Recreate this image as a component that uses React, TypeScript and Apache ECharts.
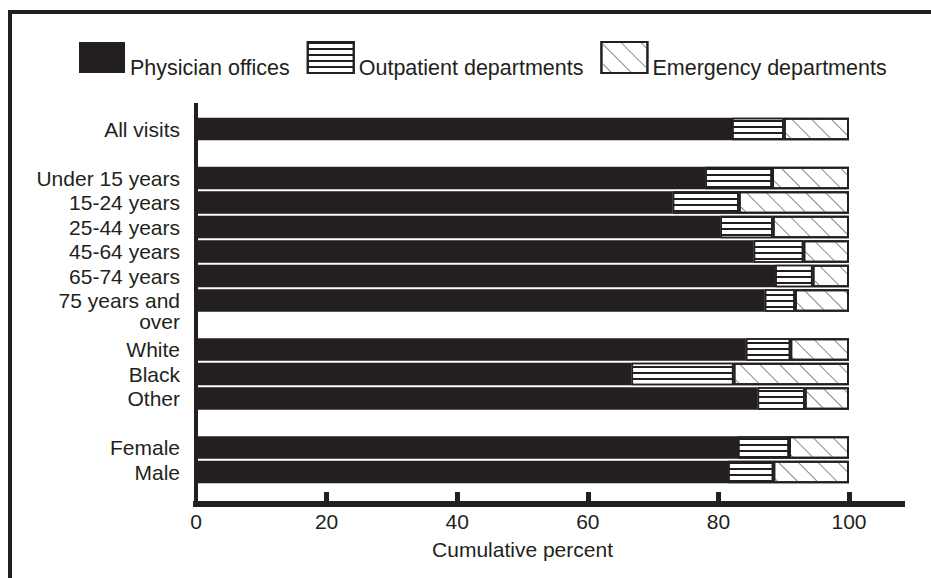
import React, { useEffect, useRef } from "react";
import * as echarts from "echarts";

const categories = [
  "All visits",
  " ",
  "Under 15 years",
  "15-24 years",
  "25-44 years",
  "45-64 years",
  "65-74 years",
  "75 years and\nover",
  "  ",
  "White",
  "Black",
  "Other",
  "   ",
  "Female",
  "Male",
];

const physicianOffices: (number | string)[] = [82.1, "-", 78.0, 73.0, 80.3, 85.4, 88.7, 87.1, "-", 84.2, 66.7, 86.0, "-", 83.0, 81.5];
const outpatientDepartments: (number | string)[] = [7.9, "-", 10.2, 10.1, 8.0, 7.6, 5.7, 4.6, "-", 6.8, 15.6, 7.2, "-", 7.8, 6.9];
const emergencyDepartments: (number | string)[] = [10.0, "-", 11.8, 16.9, 11.7, 7.0, 5.6, 8.3, "-", 9.0, 17.7, 6.8, "-", 9.2, 11.6];

const xTicks = [0, 20, 40, 60, 80, 100];
const seriesNames = ["Physician offices", "Outpatient departments", "Emergency departments"];

const INK = "#231f20";
const FONT = "'Liberation Sans', Arial, Helvetica, sans-serif";

export default function App() {
  const ref = useRef<HTMLDivElement>(null);
  useEffect(() => {
    if (!ref.current) return;
    const chart = echarts.init(ref.current, undefined, { renderer: "svg" });
    const labelFont = { fontSize: 21, color: INK, fontFamily: FONT };
    const option: any = {
      animation: false,
      backgroundColor: "#ffffff",
      textStyle: { fontFamily: FONT, color: INK },
      legend: {
        left: 79,
        top: 41,
        padding: 0,
        itemWidth: 46,
        itemHeight: 31,
        itemGap: 17,
        icon: "rect",
        data: seriesNames,
        formatter: "{a|{name}}",
        textStyle: {
          fontSize: 21.5,
          color: INK,
          fontFamily: FONT,
          rich: { a: { fontSize: 21.5, color: INK, fontFamily: FONT, padding: [21, 0, 0, 0] } },
        },
      },
      graphic: [
        {
          type: "line",
          shape: { x1: 8, y1: 12, x2: 931, y2: 12 },
          style: { stroke: INK, lineWidth: 4 },
          silent: true,
        },
        {
          type: "line",
          shape: { x1: 10, y1: 10, x2: 10, y2: 578 },
          style: { stroke: INK, lineWidth: 4 },
          silent: true,
        },
      ],
      grid: [
        { left: 196, top: 116.75, width: 653, height: 367.5 },
        { left: 196, top: 105, width: 706, height: 399 },
      ],
      xAxis: [
        {
          gridIndex: 0,
          type: "value",
          min: 0,
          max: 100,
          interval: 20,
          axisLine: { show: false },
          axisTick: { show: false },
          splitLine: { show: false },
          axisLabel: { ...labelFont, margin: 27, customValues: xTicks },
          name: "Cumulative percent",
          nameLocation: "middle",
          nameGap: 55,
          nameTextStyle: { ...labelFont },
        },
        {
          gridIndex: 1,
          type: "value",
          min: 0,
          max: 108.1,
          axisLine: { show: true, lineStyle: { color: INK, width: 6, cap: "square" } },
          axisTick: {
            show: true,
            inside: true,
            length: 12,
            customValues: xTicks.slice(1),
            lineStyle: { color: INK, width: 5 },
          },
          axisLabel: { show: false },
          splitLine: { show: false },
        },
      ],
      yAxis: [
        {
          gridIndex: 0,
          type: "category",
          inverse: true,
          data: categories,
          axisLine: { show: false },
          axisTick: { show: false },
          axisLabel: {
            interval: 0,
            ...labelFont,
            margin: 16,
            formatter: (v: string) => {
              if (v.indexOf("\n") < 0) return v;
              const parts = v.split("\n");
              return "{a|" + parts[0] + "}\n{b|" + parts[1] + "}";
            },
            rich: {
              a: { ...labelFont, padding: [21, 0, 0, 0] },
              b: { ...labelFont, lineHeight: 21 },
            },
          },
        },
        {
          gridIndex: 1,
          type: "value",
          min: 0,
          max: 1,
          offset: 3,
          axisLine: { show: true, lineStyle: { color: INK, width: 4, cap: "square" } },
          axisTick: { show: false },
          axisLabel: { show: false },
          splitLine: { show: false },
        },
      ],
      series: [
        {
          name: seriesNames[0],
          type: "bar",
          stack: "total",
          xAxisIndex: 0,
          yAxisIndex: 0,
          barCategoryGap: "8%",
          data: physicianOffices,
          itemStyle: { color: INK, borderColor: INK, borderWidth: 0 },
        },
        {
          name: seriesNames[1],
          type: "bar",
          stack: "total",
          xAxisIndex: 0,
          yAxisIndex: 0,
          barCategoryGap: "8%",
          data: outpatientDepartments,
          itemStyle: {
            color: "#ffffff",
            borderColor: INK,
            borderWidth: 1.5,
            decal: {
              symbol: "rect",
              symbolSize: 1,
              color: INK,
              dashArrayX: [1, 0],
              dashArrayY: [1.6, 3.9],
              rotation: 0,
            },
          },
        },
        {
          name: seriesNames[2],
          type: "bar",
          stack: "total",
          xAxisIndex: 0,
          yAxisIndex: 0,
          barCategoryGap: "8%",
          data: emergencyDepartments,
          itemStyle: {
            color: "#ffffff",
            borderColor: INK,
            borderWidth: 2,
            decal: {
              symbol: "rect",
              symbolSize: 1,
              color: "#8a8a8a",
              dashArrayX: [1, 0],
              dashArrayY: [0.8, 12.6],
              rotation: Math.PI / 4,
            },
          },
        },
      ],
    };
    chart.setOption(option);
    return () => chart.dispose();
  }, []);
  return (
    <div
      ref={ref}
      style={{ position: "fixed", left: 0, top: 0, width: 931, height: 578, background: "#fff" }}
    />
  );
}
